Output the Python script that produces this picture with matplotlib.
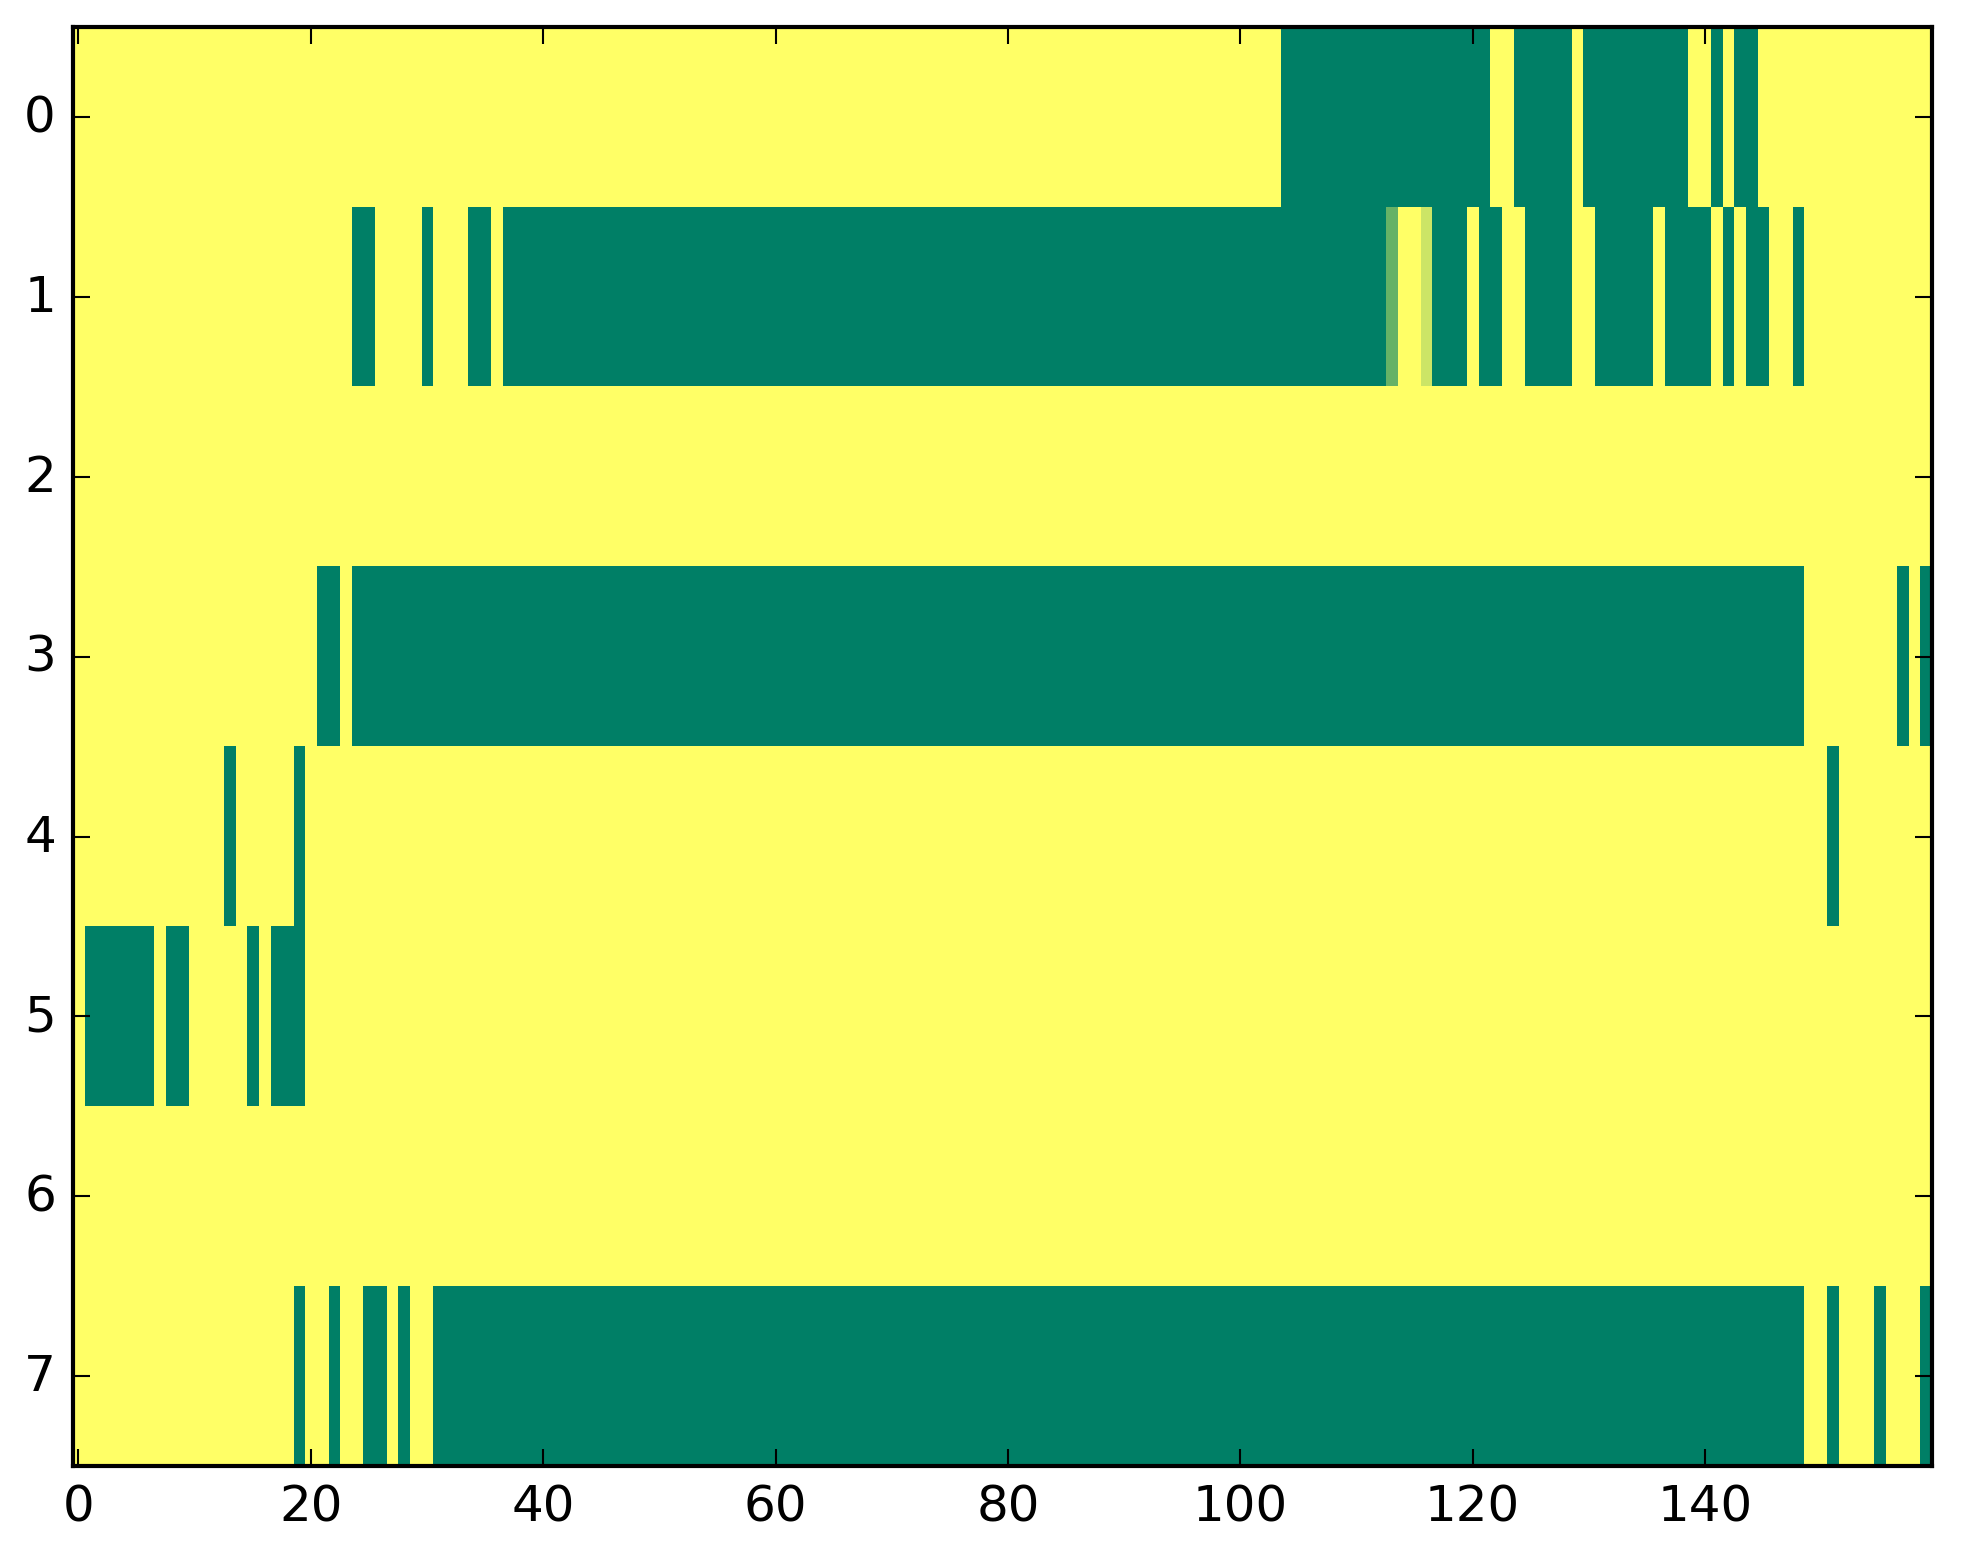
import matplotlib
matplotlib.use("Agg")
import matplotlib.pyplot as plt
import numpy as np

plt.style.use('classic')

n_rows = 8
n_cols = 160

# green runs (inclusive column ranges) for each row, everything else is 1.0
row0_green = [(104, 121), (124, 128), (130, 138), (141, 141), (143, 144)]
row1_green = [(24, 25), (30, 30), (34, 35), (37, 112), (117, 119), (121, 122),
              (125, 128), (131, 135), (137, 140), (142, 142), (144, 145), (148, 148)]
row2_green = []
row3_green = [(21, 22), (24, 148), (157, 157), (159, 159)]
row4_green = [(13, 13), (19, 19), (151, 151)]
row5_green = [(1, 6), (8, 9), (15, 15), (17, 19)]
row6_green = []
row7_green = [(19, 19), (22, 22), (25, 26), (28, 28), (31, 148),
              (151, 151), (155, 155), (159, 159)]

# cells with in-between values: (row, col, value)
partial_cells = [(1, 113, 0.4), (1, 116, 0.8)]

rows = [row0_green, row1_green, row2_green, row3_green,
        row4_green, row5_green, row6_green, row7_green]

data = np.ones((n_rows, n_cols))
for r, runs in enumerate(rows):
    for a, b in runs:
        data[r, a:b + 1] = 0.0
for r, c, v in partial_cells:
    data[r, c] = v

fig = plt.figure(figsize=(1963 / 300, 1564 / 300), dpi=300)
ax = fig.add_subplot(111)
ax.imshow(data, cmap='summer', vmin=0, vmax=1, aspect='auto',
          interpolation='nearest')
ax.set_xlim(-0.5, n_cols - 0.5)
ax.set_ylim(n_rows - 0.5, -0.5)
ax.set_xticks(np.arange(0, 160, 20))
ax.set_yticks(np.arange(0, 8))
fig.subplots_adjust(left=0.037, right=0.984, bottom=0.062, top=0.982)
fig.savefig('out.png', dpi=300)
